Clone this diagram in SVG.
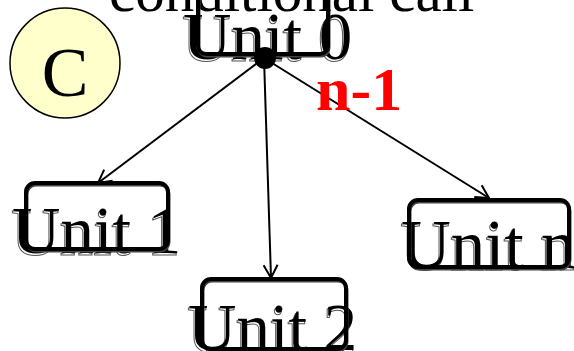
<svg xmlns="http://www.w3.org/2000/svg" width="574" height="351" viewBox="0 0 574 351">
<defs>
<style>
.lbl{font-family:"Liberation Serif","Times New Roman",serif;font-size:67px;fill:#000}
.sh{fill:none;stroke:#555;stroke-width:1}
.box{fill:none;stroke:#000;stroke-width:4}
.boxsh{fill:none;stroke:#444;stroke-width:3}
.edge{stroke:#000;stroke-width:2;fill:none}
</style>
<marker id="arr" markerWidth="16" markerHeight="16" refX="14" refY="8" orient="auto" markerUnits="userSpaceOnUse">
<path d="M1,1 L14,8 L1,15" fill="none" stroke="#000" stroke-width="2"/>
</marker>
</defs>
<g id="title">
<text x="109" y="11" class="lbl" style="font-size:59px">conditional call</text>
</g>
<g id="circleC">
<circle cx="65" cy="63" r="55" fill="#ffffcc" stroke="#000" stroke-width="1.5"/>
<text x="65" y="96" class="lbl" style="font-size:70px;text-anchor:middle">C</text>
</g>
<g id="connectors">
<line x1="264" y1="58" x2="98" y2="183" class="edge" marker-end="url(#arr)"/>
<line x1="264" y1="58" x2="271" y2="278" class="edge" marker-end="url(#arr)"/>
<line x1="264" y1="58" x2="489" y2="198" class="edge" marker-end="url(#arr)"/>
</g>
<g id="unit0">
<text x="183" y="59" class="lbl sh" transform="translate(-1,2)">Unit 0</text>
<text x="183" y="59" class="lbl">Unit 0</text>
<rect x="198" y="-10" width="130" height="64" rx="8" class="boxsh" transform="translate(1,2)"/>
<rect x="198" y="-10" width="130" height="64" rx="8" class="box"/>
<circle cx="265" cy="58" r="11" fill="#000"/>
</g>
<g id="n1label">
<text x="316" y="110" style="font-family:'Liberation Serif','Times New Roman',serif;font-size:62px;font-weight:bold;fill:#ff0000">n-1</text>
</g>
<g id="unit1">
<text x="12" y="253" class="lbl sh" transform="translate(-1,2)">Unit 1</text>
<text x="12" y="253" class="lbl">Unit 1</text>
<rect x="26" y="183" width="142" height="66" rx="9" class="boxsh" transform="translate(1,2)"/>
<rect x="26" y="183" width="142" height="66" rx="9" class="box"/>
</g>
<g id="unit2">
<text x="188" y="350" class="lbl sh" transform="translate(-1,2)">Unit 2</text>
<text x="188" y="350" class="lbl">Unit 2</text>
<rect x="202" y="279" width="144" height="70" rx="9" class="boxsh" transform="translate(1,2)"/>
<rect x="202" y="279" width="144" height="70" rx="9" class="box"/>
</g>
<g id="unitn">
<text x="401" y="268" class="lbl sh" transform="translate(-1,2)" style="font-size:69px">Unit n</text>
<text x="401" y="268" class="lbl" style="font-size:69px">Unit n</text>
<rect x="409" y="200" width="160" height="67" rx="9" class="boxsh" transform="translate(1,2)"/>
<rect x="409" y="200" width="160" height="67" rx="9" class="box"/>
</g>
</svg>
